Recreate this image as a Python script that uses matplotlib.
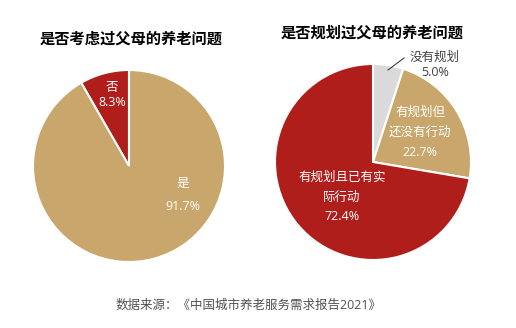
import matplotlib
matplotlib.use("Agg")
import matplotlib.pyplot as plt

plt.rcParams['font.family'] = ['Open Sans', 'Noto Sans CJK SC', 'DejaVu Sans']

# Data
left_title = "是否考虑过父母的养老问题"
left_labels = ["否", "是"]
left_values = [8.3, 91.7]

right_title = "是否规划过父母的养老问题"
right_labels = ["没有规划", "有规划但\n还没有行动", "有规划且已有实\n际行动"]
right_values = [5.0, 22.7, 72.4]

source = "数据来源：《中国城市养老服务需求报告2021》"

W, H = 516, 328
fig = plt.figure(figsize=(W / 100, H / 100), dpi=100)
ax = fig.add_axes([0, 0, 1, 1])

gold = "#C9A66B"
red = "#AF1E1B"
gray = "#DADADA"

# Left pie
ax.pie(left_values, colors=[red, gold], startangle=90, counterclock=True,
       center=(129, H - 166), radius=96,
       wedgeprops=dict(edgecolor='white', linewidth=1.5))
# Right pie
ax.pie(right_values, colors=[gray, gold, red], startangle=90, counterclock=False,
       center=(373, H - 162), radius=98,
       wedgeprops=dict(edgecolor='white', linewidth=1.5))

ax.set_xlim(0, W)
ax.set_ylim(0, H)
ax.set_aspect('equal')
ax.axis('off')

lab = dict(ha='center', va='center', fontsize=9)

ax.text(131, H - 39, left_title, ha='center', va='center', fontsize=11,
        fontweight='bold', color='black', family=['Noto Sans CJK SC'])
ax.text(112, H - 95, f"{left_labels[0]}\n{left_values[0]}%", color='white',
        linespacing=1.25, **lab)
ax.text(183, H - 195, f"{left_labels[1]}\n\n{left_values[1]}%", color='white',
        linespacing=0.85, **lab)

ax.text(372, H - 33, right_title, ha='center', va='center', fontsize=11,
        fontweight='bold', color='black', family=['Noto Sans CJK SC'])
ax.plot([388, 404], [H - 70, H - 58], color='#404040', linewidth=0.8)
ax.text(435, H - 65, f"{right_labels[0]}\n{right_values[0]:.1f}%", color='#404040',
        linespacing=1.15, **lab)
ax.text(420, H - 132, f"{right_labels[1]}\n{right_values[1]}%", color='white',
        linespacing=1.7, **lab)
ax.text(342, H - 197, f"{right_labels[2]}\n{right_values[2]}%", color='white',
        linespacing=1.7, **lab)

ax.text(249, H - 305, source, ha='center', va='center', fontsize=9, color='#505050')

fig.savefig("out.png", dpi=100, facecolor='white')
